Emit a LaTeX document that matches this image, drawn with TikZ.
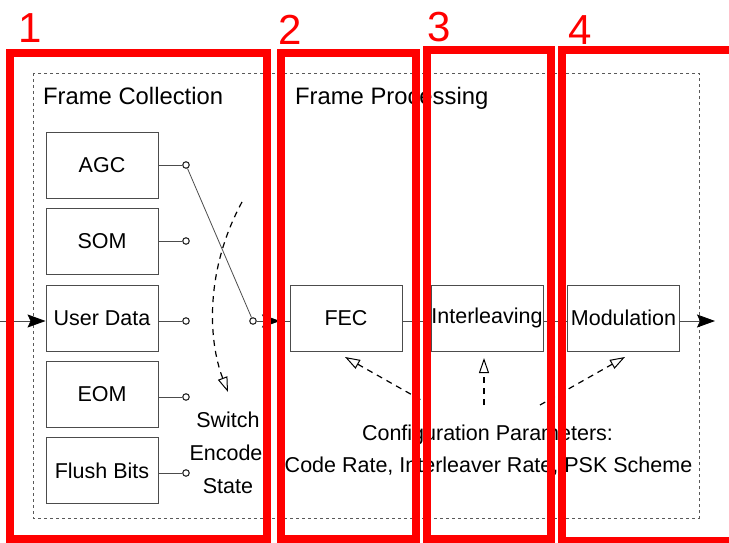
\documentclass[tikz,border=0pt]{standalone}
\usepackage{fontspec}
\setmainfont{Liberation Sans}
\usetikzlibrary{arrows.meta}
\newcommand\bodyfont{\fontsize{21.5}{26}\selectfont}
\newcommand\titlefont{\fontsize{23.8}{28}\selectfont}
\newcommand\digitfont{\fontsize{42}{46}\selectfont}
\begin{document}
\begin{tikzpicture}[x=1pt,y=-1pt,
  grp/.style={draw=black!65, line width=0.8pt, dash pattern=on 3pt off 3pt},
  blk/.style={draw=black!70, line width=0.9pt, minimum width=112pt, minimum height=66pt, inner sep=0pt, font=\bodyfont},
  tap/.style={circle, draw=black!85, line width=1.1pt, fill=white, inner sep=0pt, minimum size=6.5pt},
  wire/.style={draw=black!70, line width=0.8pt},
  flow/.style={wire, -{Stealth[length=18pt,width=13pt,inset=3pt,black]}},
  ctl/.style={draw=black, line width=1.2pt, dash pattern=on 6pt off 5pt, -{Triangle[open,length=15pt,width=10pt,line width=1pt]}},
  txt/.style={font=\bodyfont, inner sep=0pt, anchor=base},
  ttl/.style={font=\titlefont, inner sep=0pt, anchor=base west},
  hl/.style={draw=red, line width=8pt, line join=miter},
  num/.style={font=\digitfont, text=red, inner sep=0pt, anchor=base}
]
\path[use as bounding box] (0,0) rectangle (729,543);

% dashed system boundary and group titles
\draw[grp] (33,73) rectangle (699,518);
\node[ttl] (tcol) at (43,105) {Frame Collection};
\node[ttl] (tproc) at (295,105) {Frame Processing};

% frame collection sources
\node[blk] (agc) at (102,165)   {AGC};
\node[blk] (som) at (102,241)   {SOM};
\node[blk] (usr) at (102,318)   {User Data};
\node[blk] (eom) at (102,394)   {EOM};
\node[blk] (flb) at (102,470.5) {Flush Bits};

% switch contacts
\node[tap] (t1) at (186,165) {};
\node[tap] (t2) at (186,241) {};
\node[tap] (t3) at (186,321) {};
\node[tap] (t4) at (186,397) {};
\node[tap] (t5) at (186,473) {};
\node[tap] (piv) at (253,321) {};

\draw[wire] (agc.east |- t1) -- (t1);
\draw[wire] (som.east |- t2) -- (t2);
\draw[wire] (usr.east |- t3) -- (t3);
\draw[wire] (eom.east |- t4) -- (t4);
\draw[wire] (flb.east |- t5) -- (t5);
\draw[wire] (t1) -- (piv);

% input into user data
\coordinate (src) at (0,321);
\draw[flow] (src) -- (usr.west |- src);

% frame processing chain
\node[blk] (fec) at (346,318)   {FEC};
\node[blk] (itl) at (487,318)   {Interleaving};
\node[blk] (mod) at (623.5,318) {Modulation};

\coordinate (swo) at (280,321);
\coordinate (out) at (715,321);
\draw[flow] (piv) -- (swo);
\draw[wire] (swo) -- (fec.west |- swo);
\draw[wire] (fec.east |- swo) -- (itl.west |- swo);
\draw[wire] (itl.east |- swo) -- (mod.west |- swo);
\draw[flow] (mod.east |- swo) -- (out);

% switch state change
\coordinate (s0) at (242,202);
\coordinate (s1) at (228,392);
\draw[ctl] (s0) .. controls (205,270) and (208,340) .. (s1);
\node[txt] (sw1) at (228,427) {Switch};
\node[txt] (sw2) at (226,460) {Encode};
\node[txt] (sw3) at (228,493) {State};

% configuration parameters
\coordinate (k1) at (430,405); \coordinate (h1) at (345,357);
\coordinate (k2) at (484,405); \coordinate (h2) at (484,358);
\coordinate (k3) at (540,405); \coordinate (h3) at (625,357);
\draw[ctl] (k1) -- (h1);
\draw[ctl] (k2) -- (h2);
\draw[ctl] (k3) -- (h3);
\node[txt] (cp1) at (487.5,440) {Configuration Parameters:};
\node[txt] (cp2) at (488.5,472) {Code Rate, Interleaver Rate, PSK Scheme};

% numbered highlight frames
\draw[hl] (10,53) rectangle (267,539);
\draw[hl] (281,53.5) rectangle (415.5,539);
\draw[hl] (426.5,50.5) rectangle (551,539);
\draw[hl] (562,50.5) rectangle (760,541);
\node[num] (n1) at (30.5,43) {1};
\node[num] (n2) at (290.5,45) {2};
\node[num] (n3) at (439.5,42) {3};
\node[num] (n4) at (580.5,45) {4};
\end{tikzpicture}
\end{document}
